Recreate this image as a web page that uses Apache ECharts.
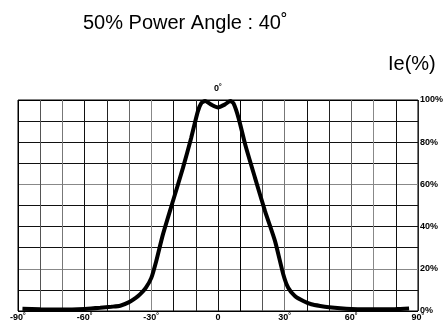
<!DOCTYPE html>
<html><head><meta charset="utf-8">
<script src="https://cdn.jsdelivr.net/npm/echarts@6/dist/echarts.min.js"></script>
<style>html,body{margin:0;padding:0;background:#fff}#c{width:446px;height:330px}</style>
</head><body><div id="c"></div>
<script>
var titleText = '50% Power Angle : 40˚';
var yAxisName = 'Ie(%)';
var angles = [-88,-80,-70,-60,-53,-48,-44,-40,-37,-35,-32.5,-30,-27.8,-24.8,-20.3,-15.8,-12.1,-9.1,-7.5,-5.8,-3,0,3,5.5,7,9.3,12.3,16.7,21.2,25.7,29.4,31.6,34.6,38.4,42,46,50,55,60,70,80,86];
var intensity = [1.1,0.8,0.7,1.0,1.5,2.0,2.5,4.2,6.2,8,11,15.7,23.6,36.2,52,67.7,81.9,94.5,98.5,99.5,97.8,96.5,97.8,99.5,98.4,91.3,78.7,63,47.2,33,17.3,11,7.1,4.7,3.2,2.4,1.8,1.3,1.0,0.8,0.9,1.2];
var xTickLabels = {'-90':'-90˚','-60':'-60˚','-30':'-30˚','0':'0','30':'30˚','60':'60˚','90':'90˚'};
var topTickLabels = {'0':'0˚'};
var yTickLabels = {'0':'0%','20':'20%','40':'40%','60':'60%','80':'80%','100':'100%'};

var data = angles.map(function(a,i){return [a, intensity[i]];});
var font = 'Liberation Sans, Arial, sans-serif';
var chart = echarts.init(document.getElementById('c'), null, {renderer:'canvas'});
chart.setOption({
  animation:false,
  backgroundColor:'#fff',
  title:[
    {text:titleText, left:78, top:8, textStyle:{fontFamily:font, fontSize:20, fontWeight:'normal', color:'#000'}},
    {text:yAxisName, left:383, top:49, textStyle:{fontFamily:font, fontSize:20, fontWeight:'normal', color:'#000'}}
  ],
  grid:{left:18, right:28, top:100, bottom:19, show:true, borderColor:'#000', borderWidth:1},
  xAxis:[{
    type:'value', min:-90, max:90, interval:10, position:'bottom',
    axisLine:{show:false}, axisTick:{show:false},
    axisLabel:{margin:2, fontFamily:font, fontSize:9, fontWeight:'bold', color:'#000',
      formatter:function(v){return xTickLabels[String(v)]||'';}},
    splitLine:{show:true, lineStyle:{color:['#000','#555','#777','#111','#222','#666','#888','#111','#222','#111'], width:1}}
  },{
    type:'value', min:-90, max:90, interval:10, position:'top',
    axisLine:{show:false}, axisTick:{show:false}, splitLine:{show:false},
    axisLabel:{margin:7, fontFamily:font, fontSize:9, fontWeight:'bold', color:'#000',
      formatter:function(v){return topTickLabels[String(v)]||'';}}
  }],
  yAxis:{
    type:'value', min:0, max:100, interval:10, position:'right',
    axisLine:{show:false}, axisTick:{show:false},
    axisLabel:{margin:2, fontFamily:font, fontSize:9, fontWeight:'bold', color:'#000',
      formatter:function(v){return yTickLabels[String(v)]||'';}},
    splitLine:{show:true, lineStyle:{color:['#000','#111','#888','#111','#111','#111','#888','#111','#111','#111','#000'], width:1}}
  },
  series:[{
    type:'line', data:data, smooth:0.2, showSymbol:false, symbol:'none',
    lineStyle:{color:'#000', width:4}, xAxisIndex:0
  }]
});
</script></body></html>
